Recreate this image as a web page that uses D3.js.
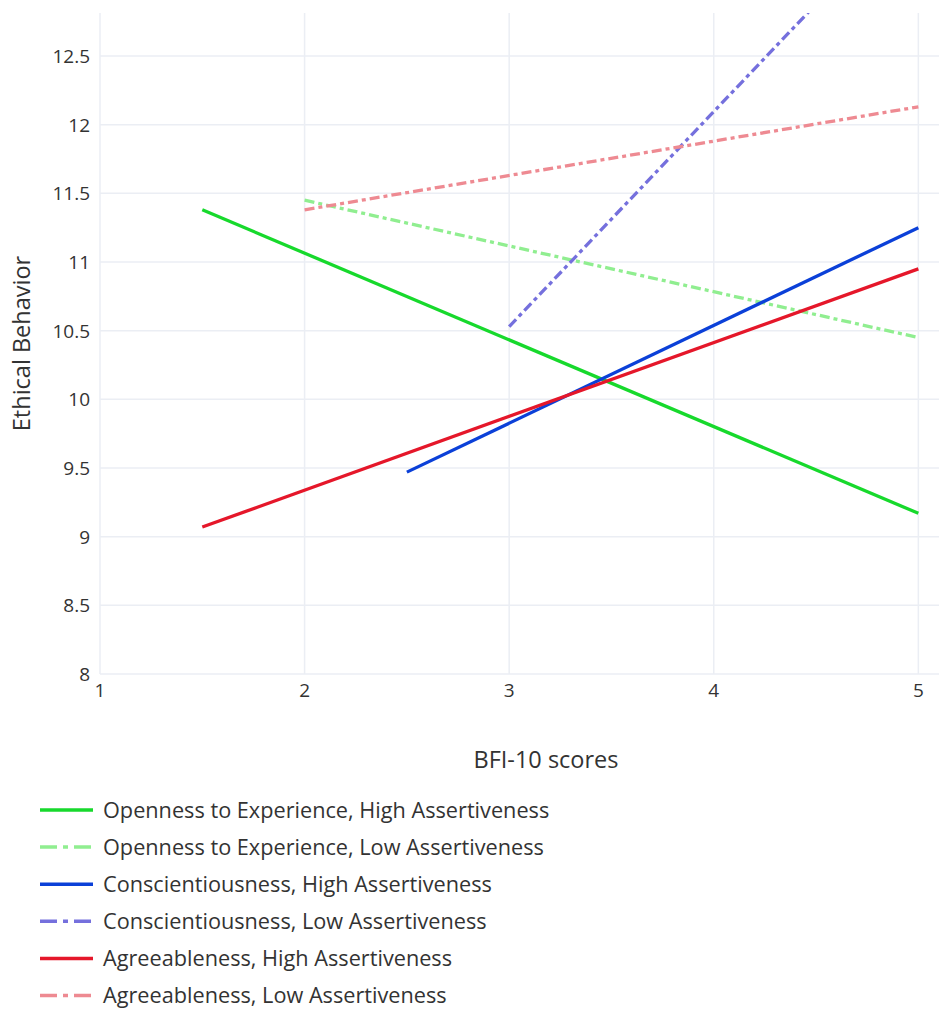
<!DOCTYPE html>
<html>
<head>
<meta charset="utf-8">
<script src="https://cdn.jsdelivr.net/npm/d3@7"></script>
<style>
	body { margin: 0; background: #fff; }
	svg { font-family: "Open Sans", sans-serif; display: block; }
	.grid line { stroke: #ebeef4; stroke-width: 1.5; }
	.tick_lbl { fill: #333; font-size: 19px; }
	.axis_title { fill: #333; font-size: 23.5px; }
	.leg_lbl { fill: #333; font-size: 21.7px; }
</style>
</head>
<body>
<svg id="chart" width="939" height="1012"></svg>
<script>
// series data
const seriesNames = [
	"Openness to Experience, High Assertiveness",
	"Openness to Experience, Low Assertiveness",
	"Conscientiousness, High Assertiveness",
	"Conscientiousness, Low Assertiveness",
	"Agreeableness, High Assertiveness",
	"Agreeableness, Low Assertiveness"
];
const seriesX = [
	[1.5, 5],
	[2, 5],
	[2.5, 5],
	[3, 5],
	[1.5, 5],
	[2, 5]
];
const seriesY = [
	[11.38, 9.17],
	[11.45, 10.45],
	[9.47, 11.25],
	[10.53, 13.66],
	[9.07, 10.95],
	[11.38, 12.13]
];
const seriesColors = ["#17d92c", "#90ee90", "#0b40d8", "#7570dd", "#e5172a", "#ee8a92"];
const seriesDash = [false, true, false, true, false, true];

const xTicks = [1, 2, 3, 4, 5];
const yTicks = [8, 8.5, 9, 9.5, 10, 10.5, 11, 11.5, 12, 12.5];

var svg = d3.select("#chart");

// plot area (right edge goes past the window, like the original)
const left = 100, right = 992, top_ = 13, bottom = 674;

var x = d3.scaleLinear().domain([1, 5.36]).range([left, right]);
var y = d3.scaleLinear().domain([8, 12.813]).range([bottom, top_]);

svg.append("clipPath")
	.attr("id", "plot_clip")
	.append("rect")
	.attr("x", left)
	.attr("y", top_)
	.attr("width", right - left)
	.attr("height", bottom - top_);

//grid lines
var grid = svg.append("g").attr("class", "grid");
grid.selectAll(".gx")
	.data(xTicks)
	.enter().append("line")
	.attr("x1", d => x(d))
	.attr("x2", d => x(d))
	.attr("y1", top_)
	.attr("y2", bottom);
grid.selectAll(".gy")
	.data(yTicks)
	.enter().append("line")
	.attr("x1", left)
	.attr("x2", right)
	.attr("y1", d => y(d))
	.attr("y2", d => y(d));

//tick labels
svg.selectAll(".xlbl")
	.data(xTicks)
	.enter().append("text")
	.attr("class", "tick_lbl")
	.attr("text-anchor", "middle")
	.attr("x", d => x(d))
	.attr("y", bottom + 23)
	.text(d => d);

svg.selectAll(".ylbl")
	.data(yTicks)
	.enter().append("text")
	.attr("class", "tick_lbl")
	.attr("text-anchor", "end")
	.attr("x", left - 10)
	.attr("y", d => y(d) + 7)
	.text(d => d);

//axis titles
svg.append("text")
	.attr("class", "axis_title")
	.attr("text-anchor", "middle")
	.attr("x", (left + right) / 2)
	.attr("y", 768)
	.text("BFI-10 scores");

svg.append("text")
	.attr("class", "axis_title")
	.attr("text-anchor", "middle")
	.attr("transform", "translate(30," + ((top_ + bottom) / 2) + ") rotate(-90)")
	.text("Ethical Behavior");

//lines
var line = d3.line()
	.x(d => x(d[0]))
	.y(d => y(d[1]));

var plot = svg.append("g").attr("clip-path", "url(#plot_clip)");
seriesNames.forEach(function(name, i) {
	let pts = seriesX[i].map((v, j) => [v, seriesY[i][j]]);
	plot.append("path")
		.datum(pts)
		.attr("d", line)
		.attr("fill", "none")
		.attr("stroke", seriesColors[i])
		.attr("stroke-width", 3.3)
		.attr("stroke-dasharray", seriesDash[i] ? "10,4,4,4" : null);
});

//legend
const leg_top = 810, leg_step = 37.1;
var legend = svg.append("g");
seriesNames.forEach(function(name, i) {
	let ly = leg_top + i * leg_step;
	legend.append("line")
		.attr("x1", 40)
		.attr("x2", 93)
		.attr("y1", ly)
		.attr("y2", ly)
		.attr("stroke", seriesColors[i])
		.attr("stroke-width", 3.5)
		.attr("stroke-dasharray", seriesDash[i] ? "17,6,5,6" : null);
	legend.append("text")
		.attr("class", "leg_lbl")
		.attr("x", 103)
		.attr("y", ly + 7.5)
		.text(name);
});
</script>
</body>
</html>
